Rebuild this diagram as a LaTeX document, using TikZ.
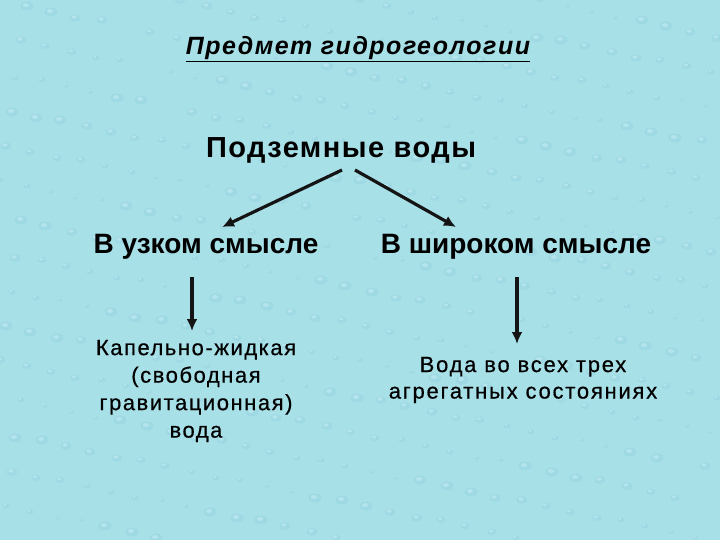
\documentclass[tikz,border=0pt]{standalone}
\usepackage{fontspec}
\setmainfont{Liberation Sans}
\usetikzlibrary{arrows.meta}
\definecolor{bgwater}{RGB}{168,224,232}
\definecolor{drop}{RGB}{140,204,216}
\definecolor{droplight}{RGB}{200,240,245}
\begin{document}
\begin{tikzpicture}[x=1pt,y=-1pt,
  lbl/.style={inner sep=0pt, align=center, text=black},
  conn/.style={line width=3.2pt, draw=black!92, -{Latex[length=12pt,width=11pt]}}]
\fill[bgwater] (0,0) rectangle (720,540);
\useasboundingbox (0,0) rectangle (720,540);
\foreach \i in {1,...,420}{
  \pgfmathsetmacro{\px}{mod(\i*37,144)*5+mod(\i,3)}
  \pgfmathsetmacro{\py}{mod(\i*29,108)*5+mod(\i,4)}
  \pgfmathsetmacro{\rr}{2.5+mod(\i*7,5)}
  \fill[drop,opacity=0.3] (\px,\py) ellipse ({\rr} and {\rr*0.7});
  \fill[droplight,opacity=0.55] (\px-1,\py-1) ellipse ({\rr*0.45} and {\rr*0.3});
}
\node[lbl, font=\fontsize{25}{30}\selectfont\bfseries\itshape\addfontfeature{LetterSpace=6}] (title) at (358,49) {\underline{Предмет гидрогеологии}};
\node[lbl, font=\fontsize{29}{34}\selectfont\bfseries\addfontfeature{LetterSpace=5}] (main) at (341,150) {Подземные воды};
\node[lbl, font=\fontsize{28}{32}\selectfont\bfseries] (narrow) at (206,247) {В узком смысле};
\node[lbl, font=\fontsize{28}{32}\selectfont\bfseries] (wide) at (516,247) {В широком смысле};
\node[lbl, font=\fontsize{22}{27.5}\selectfont\addfontfeature{LetterSpace=7,FakeBold=0.5}] (drip) at (196,391) {Капельно-жидкая\\(свободная\\гравитационная)\\вода};
\node[lbl, font=\fontsize{22}{26.5}\selectfont\addfontfeature{LetterSpace=8,FakeBold=0.5}] (all) at (523,380) {Вода во всех трех\\агрегатных состояниях};
\coordinate (m1) at (342,170);
\coordinate (m2) at (355,170);
\coordinate (n1) at (222,227);
\coordinate (w1) at (456,227);
\coordinate (a1) at (192,277);
\coordinate (a2) at (192,331);
\coordinate (b1) at (517,277);
\coordinate (b2) at (517,344);
\draw[conn] (m1) -- (n1);
\draw[conn] (m2) -- (w1);
\draw[conn] (a1) -- (a2);
\draw[conn] (b1) -- (b2);
\end{tikzpicture}
\end{document}
